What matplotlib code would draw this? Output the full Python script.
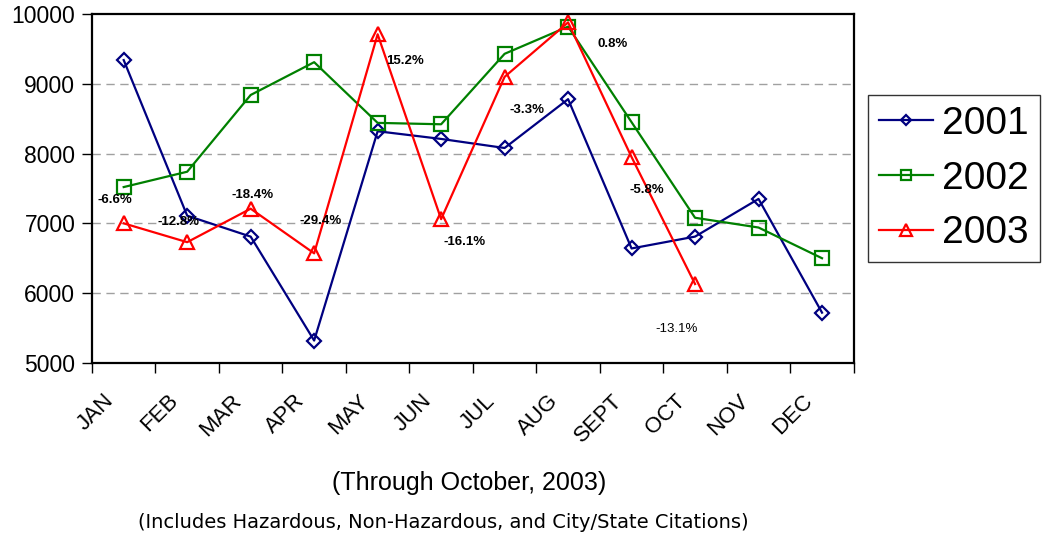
import matplotlib
import matplotlib.pyplot as plt
import numpy as np
matplotlib.use("Agg")

plt.rcParams['font.family'] = ['Liberation Sans', 'DejaVu Sans']

months = ["JAN", "FEB", "MAR", "APR", "MAY", "JUN",
          "JUL", "AUG", "SEPT", "OCT", "NOV", "DEC"]

y2001 = [9340, 7110, 6810, 5320, 8320, 8210, 8080, 8780, 6640, 6810, 7350, 5720]
y2002 = [7520, 7740, 8840, 9310, 8440, 8420, 9430, 9820, 8450, 7080, 6940, 6500]
y2003 = [7000, 6730, 7210, 6570, 9710, 7060, 9100, 9880, 7950, 6130]

changes = ["-6.6%", "-12.8%", "-18.4%", "-29.4%", "15.2%",
           "-16.1%", "-3.3%", "0.8%", "-5.8%", "-13.1%"]
# label offsets in pixels from the 2003 marker (dx, dy with y up)
offsets = [(-9, 23), (-9, 20), (2, 14), (6, 32), (27, -27),
           (23, -23), (22, -33), (45, -22), (15, -33), (-18, -45)]

fig = plt.figure(figsize=(10.45, 5.4), dpi=100)
ax = fig.add_axes([0.088, 0.328, 0.729, 0.646])

x = np.arange(len(months)) + 0.5

ax.plot(x, y2001, color="#000080", lw=1.6, marker="D", ms=7,
        mfc="none", mec="#000080", mew=1.6, label="2001")
ax.plot(x, y2002, color="#008000", lw=1.6, marker="s", ms=9.5,
        mfc="none", mec="#008000", mew=1.6, label="2002")
ax.plot(x[:len(y2003)], y2003, color="#FF0000", lw=1.6, marker="^", ms=10.5,
        mfc="none", mec="#FF0000", mew=1.6, label="2003")

for i, (txt, off) in enumerate(zip(changes, offsets)):
    ax.annotate(txt, (x[i], y2003[i]), xytext=(off[0] * 0.72, off[1] * 0.72),
                textcoords="offset points", ha="center", va="center",
                fontsize=9.5, fontweight="normal" if i == 9 else "bold")

ax.set_xlim(0, 12)
ax.set_ylim(5000, 10000)
ax.set_yticks([5000, 6000, 7000, 8000, 9000, 10000])
ax.set_xticks(np.arange(13))
ax.set_xticklabels([])
# month labels sit a little left of the category centre, as in the original
ax.set_xticks(x - 0.2, minor=True)
ax.set_xticklabels(months, minor=True, rotation=45, ha="right",
                   va="center", rotation_mode="anchor", fontsize=16)
ax.tick_params(axis="x", which="minor", length=0, pad=25)
ax.tick_params(axis="x", which="major", length=7, width=1, direction="out")
ax.tick_params(axis="y", length=7, width=1, direction="out", labelsize=16.5, pad=5)

for yv in [6000, 7000, 8000, 9000]:
    ax.axhline(yv, color="#a0a0a0", lw=1, ls=(0, (6, 4)), zorder=0)

for s in ax.spines.values():
    s.set_linewidth(1.6)
    s.set_color("black")

leg = fig.legend(loc="upper left", bbox_to_anchor=(0.8306, 0.824),
                 fontsize=28, frameon=True, fancybox=False, edgecolor="black",
                 handlelength=1.4, borderpad=0.28, labelspacing=0.48,
                 handletextpad=0.23, borderaxespad=0, markerscale=0.8)
leg.get_frame().set_linewidth(1)

fig.text(0.449, 0.106, "(Through October, 2003)", ha="center", va="center", fontsize=18)
fig.text(0.424, 0.032, "(Includes Hazardous, Non-Hazardous, and City/State Citations)",
         ha="center", va="center", fontsize=14, family="DejaVu Sans")

fig.savefig("out.png", dpi=100)
